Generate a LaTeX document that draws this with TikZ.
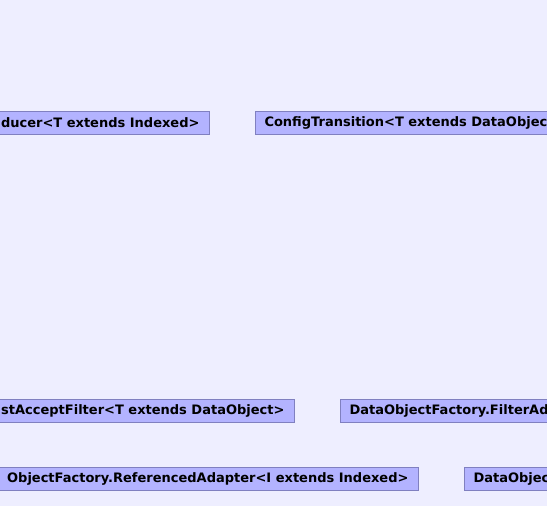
\documentclass[tikz,border=0pt]{standalone}
\usepackage{fontspec}
\setmainfont{DejaVu Sans}
\definecolor{bg}{RGB}{238,238,255}
\definecolor{boxfill}{RGB}{179,179,255}
\definecolor{boxline}{RGB}{128,128,192}
\begin{document}
\begin{tikzpicture}[x=1pt,y=-1pt,
  cls/.style={draw=boxline, fill=boxfill, line width=1pt, inner xsep=9.5pt, inner ysep=0pt,
    minimum height=23pt, font=\fontsize{13}{15}\selectfont\bfseries, text=black}]
\useasboundingbox (0,0) rectangle (547,506);
\fill[bg] (0,0) rectangle (547,506);
\clip (0,0) rectangle (547,506);
\node[cls, anchor=north east] (producer) at (209.5,110.5) {ducer<T extends Indexed>};
\node[cls, anchor=north west] (config) at (254.5,110.5) {ConfigTransition<T extends DataObjec};
\node[cls, anchor=north east] (accept) at (294.5,398.5) {stAcceptFilter<T extends DataObject>};
\node[cls, anchor=north west] (filter) at (339.5,398.5) {DataObjectFactory.FilterAd};
\node[cls, anchor=north east] (refadapter) at (418.5,466.5) {ObjectFactory.ReferencedAdapter<I extends Indexed>};
\node[cls, anchor=north west] (dataobj) at (463.5,466.5) {DataObjec};
\end{tikzpicture}
\end{document}
